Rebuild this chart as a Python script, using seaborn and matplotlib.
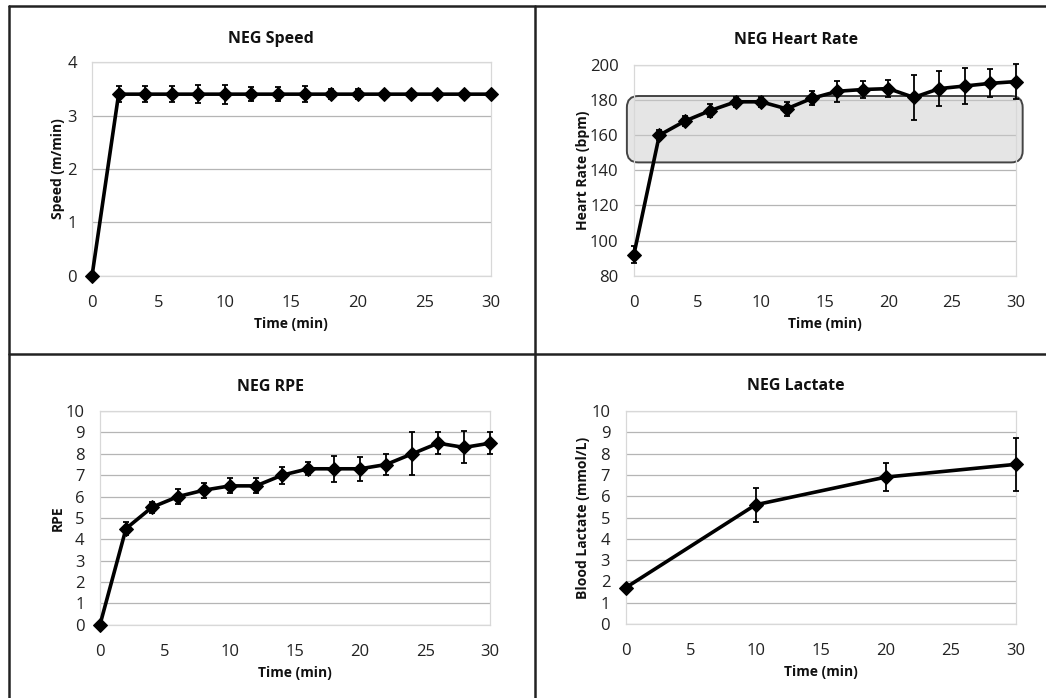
import numpy as np
import matplotlib
matplotlib.use("Agg")
import matplotlib.pyplot as plt
import seaborn as sns
from matplotlib.lines import Line2D
from matplotlib.patches import FancyBboxPatch

# data
time_2min = [0, 2, 4, 6, 8, 10, 12, 14, 16, 18, 20, 22, 24, 26, 28, 30]
speed = [0, 3.4, 3.4, 3.4, 3.4, 3.4, 3.4, 3.4, 3.4, 3.4, 3.4, 3.4, 3.4, 3.4, 3.4, 3.4]
speed_err = [0, 0.15, 0.15, 0.15, 0.17, 0.18, 0.13, 0.13, 0.15, 0.1, 0.1, 0, 0, 0, 0, 0]
hr = [92, 160, 168, 174, 179, 179, 175, 181, 185, 186, 186.5, 181.5, 186.5, 188, 189.5, 190.5]
hr_err = [5, 3, 3, 3.5, 3, 3, 4, 4, 6, 5, 5, 13, 10, 10.5, 8, 10]
rpe = [0, 4.5, 5.5, 6.0, 6.3, 6.5, 6.5, 7.0, 7.3, 7.3, 7.3, 7.5, 8.0, 8.5, 8.3, 8.5]
rpe_err = [0, 0.3, 0.25, 0.35, 0.35, 0.35, 0.35, 0.4, 0.3, 0.6, 0.55, 0.5, 1.0, 0.5, 0.75, 0.5]
time_lac = [0, 10, 20, 30]
lactate = [1.7, 5.6, 6.9, 7.5]
lactate_err = [0, 0.8, 0.65, 1.25]
hr_zone = (144.5, 182.3)

sns.set_theme(style="whitegrid")
plt.rcParams['font.family'] = ['Open Sans', 'DejaVu Sans']

fig = plt.figure(figsize=(10.46, 6.98), dpi=100)

panels = [
    # rect, x, y, err, title, ylabel, ylim, yticks, title x, ylabel x
    ([0.088, 0.605, 0.381, 0.306], time_2min, speed, speed_err, "NEG Speed",
     "Speed (m/min)", (0, 4), np.arange(0, 5, 1), 0.259, 0.055),
    ([0.606, 0.605, 0.365, 0.302], time_2min, hr, hr_err, "NEG Heart Rate",
     "Heart Rate (bpm)", (80, 200), np.arange(80, 220, 20), 0.761, 0.557),
    ([0.0956, 0.105, 0.373, 0.306], time_2min, rpe, rpe_err, "NEG RPE",
     "RPE", (0, 10), np.arange(0, 11, 1), 0.259, 0.055),
    ([0.598, 0.106, 0.373, 0.305], time_lac, lactate, lactate_err, "NEG Lactate",
     "Blood Lactate (mmol/L)", (0, 10), np.arange(0, 11, 1), 0.761, 0.557),
]

title_y = [0.944, 0.942, 0.446, 0.447]

for i, (rect, x, y, err, title, ylab, ylim, yticks, tx, ylx) in enumerate(panels):
    ax = fig.add_axes(rect)
    ax.errorbar(x, y, yerr=err, fmt='none', ecolor='black', elinewidth=1.3,
                capsize=2.5, capthick=1.3, zorder=3, clip_on=False)
    sns.lineplot(x=x, y=y, ax=ax, color='black', linewidth=2.6, marker='D',
                 markersize=7.5, markeredgecolor='black', zorder=4, clip_on=False)
    ax.set_xlim(0, 30)
    ax.set_ylim(*ylim)
    ax.set_xticks(np.arange(0, 35, 5))
    ax.set_yticks(yticks)
    ax.tick_params(axis='both', labelsize=12, colors='#222222', length=0)
    ax.tick_params(axis='x', pad=14)
    ax.tick_params(axis='y', pad=11)
    ax.grid(axis='y', color='#b5b5b5', linewidth=0.9)
    ax.grid(axis='x', visible=False)
    for s in ax.spines.values():
        s.set_color('#d8d8d8')
        s.set_linewidth(0.9)
    ax.set_xlabel("Time (min)", fontsize=10, fontweight='bold', color='#111111', labelpad=4)
    ax.set_ylabel("")
    fig.text(ylx, rect[1] + rect[3] / 2, ylab, rotation=90, fontsize=10,
             fontweight='bold', color='#111111', ha='center', va='center')
    fig.text(tx, title_y[i], title, fontsize=11.5, fontweight='bold',
             color='#111111', ha='center', va='center')

    if title == "NEG Heart Rate":
        aspect = (120 / 211) / (30 / 382)
        box = FancyBboxPatch((-0.55, hr_zone[0]), 31.1, hr_zone[1] - hr_zone[0],
                             boxstyle="round,pad=0,rounding_size=0.9",
                             mutation_aspect=aspect, facecolor=(0.80, 0.80, 0.80, 0.5),
                             edgecolor='#444444', linewidth=1.4, zorder=2, clip_on=False)
        ax.add_patch(box)

# panel frame lines
frame = dict(color='#222222', linewidth=1.8, transform=fig.transFigure)
fig.add_artist(Line2D([0.0086, 1.0], [0.9914, 0.9914], **frame))
fig.add_artist(Line2D([0.0086, 0.0086], [0.0, 0.9914], **frame))
fig.add_artist(Line2D([0.5115, 0.5115], [0.0, 0.9914], **frame))
fig.add_artist(Line2D([0.0086, 1.0], [0.4928, 0.4928], **frame))

fig.savefig("out.png", dpi=100)
